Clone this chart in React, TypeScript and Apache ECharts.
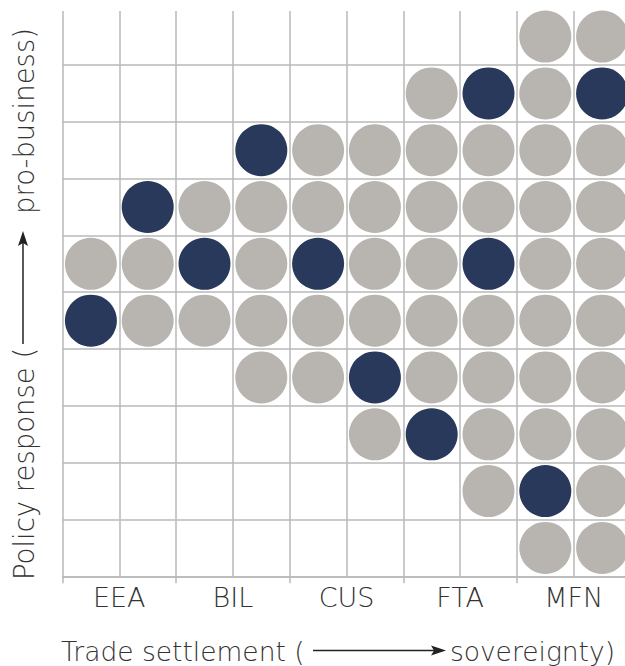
import React, { useEffect, useRef } from "react";
import * as echarts from "echarts";

// Category labels along the x axis (each spans two sub-columns)
const categories: string[] = ["EEA", "BIL", "CUS", "FTA", "MFN"];

// Grid pattern, top row first. '.' = empty, 'o' = grey dot, 'x' = navy dot
const rowPatterns: string[] = [
  "........oo",
  "......oxox",
  "...xoooooo",
  ".xoooooooo",
  "ooxoxooxoo",
  "xooooooooo",
  "...ooxoooo",
  ".....oxooo",
  ".......oxo",
  "........oo",
];

const xTitleLeft = "Trade settlement (";
const xTitleRight = "sovereignty)";
const yTitleLeft = "Policy response (";
const yTitleRight = "pro-business)";

const GREY = "#b8b5b1";
const NAVY = "#29395c";
const LINE = "#b9b9b9";
const TEXT = "#333333";
const FONT = "'DejaVu Sans'";

function buildPoints() {
  const grey: number[][] = [];
  const navy: number[][] = [];
  const nRows = rowPatterns.length;
  rowPatterns.forEach((row, r) => {
    const yv = nRows - 1 - r + 0.5;
    row.split("").forEach((ch, c) => {
      const xv = c + 0.5;
      if (ch === "o") grey.push([xv, yv]);
      else if (ch === "x") navy.push([xv, yv]);
    });
  });
  return { grey, navy };
}

export default function App() {
  const ref = useRef<HTMLDivElement>(null);
  useEffect(() => {
    if (!ref.current) return;
    const chart = echarts.init(ref.current, undefined, { renderer: "svg" });
    const { grey, navy } = buildPoints();
    const xTitleFont = { fontFamily: FONT, fontWeight: 200, fontSize: 26.5, fill: TEXT };
    const yTitleFont = { fontFamily: FONT, fontWeight: 200, fontSize: 27.5, fill: TEXT };
    const option: any = {
      animation: false,
      grid: { left: 62.5, top: 11, width: 568, height: 565.3 },
      xAxis: [
        {
          type: "value",
          min: 0,
          max: 10,
          interval: 1,
          axisLine: { show: false },
          axisTick: { show: false },
          axisLabel: { show: false },
          splitLine: { show: true, lineStyle: { color: LINE, width: 1.5 } },
        },
        {
          type: "category",
          position: "bottom",
          data: categories,
          boundaryGap: true,
          axisLine: { show: true, lineStyle: { color: LINE, width: 1.5 } },
          axisTick: { show: true, length: 7, lineStyle: { color: LINE, width: 1.5 } },
          axisLabel: {
            show: true,
            margin: 8,
            fontFamily: FONT,
            fontWeight: 200,
            fontSize: 27,
            color: TEXT,
          },
          splitLine: { show: false },
        },
      ],
      yAxis: {
        type: "value",
        min: 0,
        max: 9.95,
        interval: 1,
        axisLine: { show: false },
        axisTick: { show: false },
        axisLabel: { show: false },
        splitLine: {
          show: true,
          showMaxLine: false,
          lineStyle: { color: LINE, width: 1.5 },
        },
      },
      series: [
        {
          type: "scatter",
          xAxisIndex: 0,
          data: grey,
          symbol: "circle",
          symbolSize: 52,
          itemStyle: { color: GREY, opacity: 1 },
          clip: false,
          z: 3,
        },
        {
          type: "scatter",
          xAxisIndex: 0,
          data: navy,
          symbol: "circle",
          symbolSize: 52,
          itemStyle: { color: NAVY, opacity: 1 },
          clip: false,
          z: 3,
        },
      ],
      graphic: [
        {
          type: "text",
          x: 61,
          y: 651,
          style: { ...xTitleFont, text: xTitleLeft, textAlign: "left", textVerticalAlign: "middle" },
        },
        {
          type: "line",
          shape: { x1: 313, y1: 650.5, x2: 437, y2: 650.5 },
          style: { stroke: "#222", lineWidth: 1.5 },
        },
        {
          type: "polygon",
          shape: { points: [[431, 645.5], [446, 650.5], [431, 655.5], [434, 650.5]] },
          style: { fill: "#222" },
        },
        {
          type: "text",
          x: 615,
          y: 651,
          style: { ...xTitleFont, text: xTitleRight, textAlign: "right", textVerticalAlign: "middle" },
        },
        {
          type: "group",
          x: 23.5,
          y: 580,
          rotation: Math.PI / 2,
          children: [
            {
              type: "text",
              x: 0,
              y: 0,
              style: { ...yTitleFont, text: yTitleLeft, textAlign: "left", textVerticalAlign: "middle" },
            },
            {
              type: "line",
              shape: { x1: 236, y1: -0.5, x2: 342, y2: -0.5 },
              style: { stroke: "#222", lineWidth: 1.5 },
            },
            {
              type: "polygon",
              shape: { points: [[334, -5.5], [349, -0.5], [334, 4.5], [337, -0.5]] },
              style: { fill: "#222" },
            },
            {
              type: "text",
              x: 552,
              y: 0,
              style: { ...yTitleFont, text: yTitleRight, textAlign: "right", textVerticalAlign: "middle" },
            },
          ],
        },
      ],
    };
    chart.setOption(option);
    return () => chart.dispose();
  }, []);
  return (
    <div style={{ position: "fixed", left: 0, top: 0, width: 625, height: 666, overflow: "hidden", background: "#fff" }}>
      <div ref={ref} style={{ width: 632, height: 666 }} />
    </div>
  );
}
